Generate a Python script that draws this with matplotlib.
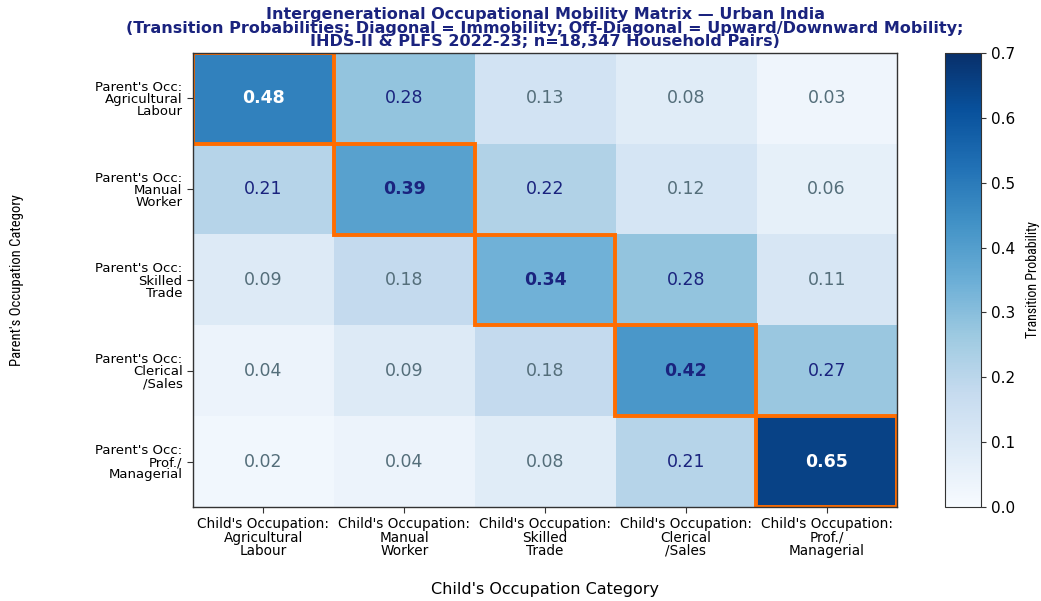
import numpy as np
import matplotlib
matplotlib.use("Agg")
import matplotlib.pyplot as plt
from matplotlib.patches import Rectangle

# Occupational categories (parent rows, child columns)
parent_labels = [
    "Parent's Occ:\nAgricultural\nLabour",
    "Parent's Occ:\nManual\nWorker",
    "Parent's Occ:\nSkilled\nTrade",
    "Parent's Occ:\nClerical\n/Sales",
    "Parent's Occ:\nProf./\nManagerial",
]
child_labels = [
    "Child's Occupation:\nAgricultural\nLabour",
    "Child's Occupation:\nManual\nWorker",
    "Child's Occupation:\nSkilled\nTrade",
    "Child's Occupation:\nClerical\n/Sales",
    "Child's Occupation:\nProf./\nManagerial",
]

# Transition probabilities, one list per parent category
row_agri = [0.48, 0.28, 0.13, 0.08, 0.03]
row_manual = [0.21, 0.39, 0.22, 0.12, 0.06]
row_skilled = [0.09, 0.18, 0.34, 0.28, 0.11]
row_clerical = [0.04, 0.09, 0.18, 0.42, 0.27]
row_prof = [0.02, 0.04, 0.08, 0.21, 0.65]

matrix = np.array([row_agri, row_manual, row_skilled, row_clerical, row_prof])

NAVY = "#1a237e"
SLATE = "#546e7a"
ORANGE = "#ff6d00"
narrow = ["Roboto Condensed", "Liberation Sans Narrow", "Roboto", "DejaVu Sans"]

fig = plt.figure(figsize=(10.41, 6.01), dpi=100)
ax = fig.add_axes([0.1854, 0.1564, 0.6763, 0.7554])
cax = fig.add_axes([0.9078, 0.1564, 0.0346, 0.7554])

im = ax.imshow(matrix, cmap="Blues", vmin=0, vmax=0.7, aspect="auto")

n = matrix.shape[0]
for i in range(n):
    for j in range(n):
        v = matrix[i, j]
        if v > 0.45:
            color = "white"
        elif v >= 0.2:
            color = NAVY
        else:
            color = SLATE
        weight = "bold" if i == j else "normal"
        ax.text(j, i, f"{v:.2f}", ha="center", va="center",
                fontsize=12.5, color=color, fontweight=weight)
    # outline the diagonal (immobility) cells
    ax.add_patch(Rectangle((i - 0.5, i - 0.5), 1, 1, fill=False,
                           edgecolor=ORANGE, linewidth=2.8))

ax.set_xticks(range(n))
ax.set_yticks(range(n))
ax.set_xticklabels(child_labels, fontsize=9.8, linespacing=0.92)
ax.set_yticklabels(parent_labels, fontsize=9.5, linespacing=0.92)
ax.tick_params(length=4, color="#333333")
for s in ax.spines.values():
    s.set_color("#333333")
    s.set_linewidth(1.0)

ax.set_title("Intergenerational Occupational Mobility Matrix \u2014 Urban India\n"
             "(Transition Probabilities; Diagonal = Immobility; Off-Diagonal = Upward/Downward Mobility;\n"
             "IHDS-II & PLFS 2022-23; n=18,347 Household Pairs)",
             fontsize=11.5, fontweight="bold", color=NAVY, pad=5,
             linespacing=0.86)

ax.set_xlabel("Child's Occupation Category", fontsize=11.5)
ax.xaxis.set_label_coords(0.5, -0.165)
ax.set_ylabel("Parent's Occupation Category", fontsize=10.5, family=narrow)
ax.yaxis.set_label_coords(-0.24, 0.5)

cb = fig.colorbar(im, cax=cax)
cb.ax.tick_params(labelsize=11, color="#333333")
cb.outline.set_edgecolor("#333333")
cb.set_label("Transition Probability", fontsize=10, family=narrow, labelpad=8)

fig.savefig("out.png", dpi=100)
